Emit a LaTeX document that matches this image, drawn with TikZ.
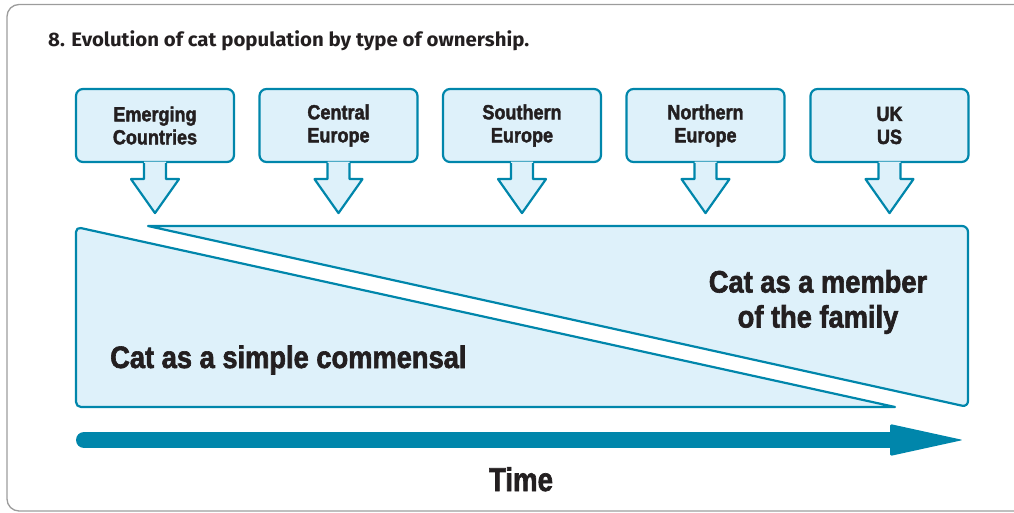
\documentclass[tikz,border=0pt]{standalone}
\usepackage{fontspec}
\usepackage{graphicx}
\setmainfont{Liberation Sans}
\newfontfamily\condf[FakeStretch=0.88,FakeBold=2]{Liberation Sans Bold}
\newfontfamily\titlef{Fira Sans Bold}
\newcommand\hfit[2]{\resizebox{#1}{\height}{#2}}
\definecolor{teal1}{HTML}{0086AB}
\definecolor{pale}{HTML}{DEF1FA}
\definecolor{ink}{HTML}{231F20}
\definecolor{framegray}{HTML}{9C9C9C}
\tikzset{
  src/.style={draw=teal1, fill=pale, line width=2.2pt, rounded corners=7pt,
    minimum width=158pt, minimum height=73pt, align=center, text=ink,
    font=\condf\fontsize{20.5}{23}\selectfont, inner sep=0pt},
  outline/.style={draw=teal1, line width=2.2pt, line join=round},
  biglabel/.style={text=ink, font=\condf\fontsize{31}{35}\selectfont, inner sep=0pt},
}
\begin{document}
\begin{tikzpicture}[x=1pt,y=-1pt]
\useasboundingbox (0,0) rectangle (1014,513);
% frame
\draw[framegray, line width=1.3pt, rounded corners=12pt] (1014,4.5) -- (7,4.5) -- (7,511) -- (1014,511);
% title
\node[anchor=base west, inner sep=0pt, text=ink] (title) at (48,47)
  {\hfit{481pt}{\titlef\fontsize{19.5}{22}\selectfont 8. Evolution of cat population by type of ownership.}};
% source boxes
\foreach \n/\cx/\txt in {1/155/{Emerging\\Countries}, 2/338.5/{Central\\Europe}, 3/522/{Southern\\Europe}, 4/705.5/{Northern\\Europe}, 5/889.5/{UK\\US}}{
  \node[src] (b\n) at (\cx,125.5) {\txt};
  \fill[pale] ([xshift=-11pt,yshift=1.5pt]b\n.south) -- ([xshift=-11pt,yshift=-16pt]b\n.south) -- ([xshift=-24pt,yshift=-16pt]b\n.south)
     -- ([yshift=-50pt]b\n.south) -- ([xshift=24pt,yshift=-16pt]b\n.south) -- ([xshift=11pt,yshift=-16pt]b\n.south) -- ([xshift=11pt,yshift=1.5pt]b\n.south) -- cycle;
  \draw[outline] ([xshift=-11pt]b\n.south) -- ([xshift=-11pt,yshift=-16pt]b\n.south) -- ([xshift=-24pt,yshift=-16pt]b\n.south)
     -- ([yshift=-50pt]b\n.south) -- ([xshift=24pt,yshift=-16pt]b\n.south) -- ([xshift=11pt,yshift=-16pt]b\n.south) -- ([xshift=11pt]b\n.south);
}
% lower-left region (commensal)
\draw[outline, fill=pale] (895,407) [rounded corners=5pt] -- (76,407) -- (76,227) [sharp corners] -- cycle;
% upper-right region (family member)
\draw[outline, fill=pale] (148,226) [rounded corners=6pt] -- (968,226) -- (968,407) [sharp corners] -- cycle;
\node[biglabel, anchor=base west] (comm) at (110,368) {Cat as a simple commensal};
\node[biglabel, anchor=center, align=center] (fam) at (818,302) {Cat as a member\\of the family};
% time arrow
\coordinate (ts) at (84,440);
\coordinate (te) at (963,440);
\draw[teal1, line width=16pt, line cap=round] (ts) -- ([xshift=-70pt]te);
\fill[teal1, rounded corners=1.5pt] ([xshift=-73pt,yshift=-16pt]te) -- (te) -- ([xshift=-73pt,yshift=16pt]te) -- cycle;
\node[anchor=base, inner sep=0pt, text=ink] (time) at (521,491)
  {\hfit{64pt}{\condf\fontsize{33}{36}\selectfont Time}};
\end{tikzpicture}
\end{document}
